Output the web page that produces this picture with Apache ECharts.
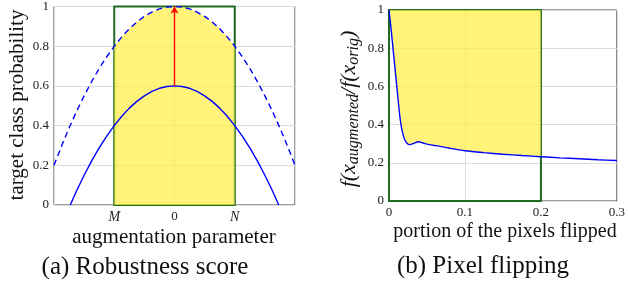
<!DOCTYPE html>
<html><head><meta charset="utf-8">
<script src="https://cdn.jsdelivr.net/npm/echarts@6/dist/echarts.min.js"></script>
<style>html,body{margin:0;padding:0;background:#fff}#c{width:628px;height:284px}</style>
</head><body><div id="c"></div>
<script>
// ---- left panel: robustness score ----
const dashX = [-2, -1.875, -1.75, -1.625, -1.5, -1.375, -1.25, -1.125, -1, -0.875, -0.75, -0.625, -0.5, -0.375, -0.25, -0.125, 0,
               0.125, 0.25, 0.375, 0.5, 0.625, 0.75, 0.875, 1, 1.125, 1.25, 1.375, 1.5, 1.625, 1.75, 1.875, 2];
const dashY = [0.20, 0.297, 0.388, 0.472, 0.55, 0.622, 0.688, 0.747, 0.80, 0.847, 0.888, 0.922, 0.95, 0.972, 0.988, 0.997, 1.00,
               0.997, 0.988, 0.972, 0.95, 0.922, 0.888, 0.847, 0.80, 0.747, 0.688, 0.622, 0.55, 0.472, 0.388, 0.297, 0.20];
const solidX = [-1.73, -1.625, -1.5, -1.375, -1.25, -1.125, -1, -0.875, -0.75, -0.625, -0.5, -0.375, -0.25, -0.125, 0,
                0.125, 0.25, 0.375, 0.5, 0.625, 0.75, 0.875, 1, 1.125, 1.25, 1.375, 1.5, 1.625, 1.73];
const solidY = [0, 0.072, 0.15, 0.222, 0.288, 0.347, 0.40, 0.447, 0.488, 0.522, 0.55, 0.572, 0.588, 0.597, 0.60,
                0.597, 0.588, 0.572, 0.55, 0.522, 0.488, 0.447, 0.40, 0.347, 0.288, 0.222, 0.15, 0.072, 0];
const leftTickLabels = {'-1': 'M', '0': '0', '1': 'N'};
const boxM = -1, boxN = 1;
const arrowFrom = 0.6, arrowTo = 1;
// ---- right panel: pixel flipping ----
const flipX = [0, 0.003, 0.006, 0.009, 0.012, 0.015, 0.018, 0.021, 0.024, 0.027, 0.031, 0.035, 0.039, 0.044, 0.05, 0.058, 0.066, 0.08, 0.1, 0.125, 0.15, 0.175, 0.2, 0.225, 0.25, 0.275, 0.3];
const flipY = [1, 0.89, 0.77, 0.65, 0.53, 0.42, 0.355, 0.318, 0.301, 0.295, 0.299, 0.306, 0.31, 0.305, 0.298, 0.292, 0.287, 0.276, 0.263, 0.253, 0.245, 0.238, 0.232, 0.226, 0.221, 0.216, 0.212];
const flipLimit = 0.2;

const pairs = (xs, ys) => xs.map((x, i) => [x, ys[i]]);
const yellow = 'rgba(255,238,70,0.72)';
const green = '#1f6b1f';
const blue = '#0000ff';
const serif = '"Liberation Serif", "DejaVu Serif", serif';
const tickFont = {fontFamily: serif, fontSize: 13, color: '#222'};
const gridLine = {show: true, lineStyle: {color: '#dcdcdc', width: 1}};

const dashPts = pairs(dashX, dashY);
const fillLeft = dashPts.filter(p => p[0] >= boxM && p[0] <= boxN);
const flipPts = pairs(flipX, flipY);
const fillRight = flipPts.filter(p => p[0] <= flipLimit);

const chart = echarts.init(document.getElementById('c'), null, {renderer: 'canvas'});
chart.setOption({
  animation: false,
  grid: [
    {left: 54, top: 5, width: 241, height: 200, show: true, borderColor: '#444', borderWidth: 1, backgroundColor: 'transparent'},
    {left: 389, top: 10, width: 231, height: 191, show: true, borderColor: '#444', borderWidth: 1, backgroundColor: 'transparent'}
  ],
  xAxis: [
    {type: 'value', gridIndex: 0, min: -2, max: 2, interval: 1,
     axisLine: {show: false}, axisTick: {show: false}, splitLine: gridLine,
     axisLabel: Object.assign({margin: 5, formatter: v => {
       const s = leftTickLabels[String(v)]; if (!s) return ''; return s === '0' ? '0' : '{i|' + s + '}';
     }, rich: {i: {fontFamily: serif, fontStyle: 'italic', fontSize: 14, color: '#222'}}}, tickFont)},
    {type: 'value', gridIndex: 1, min: 0, max: 0.3, interval: 0.1,
     axisLine: {show: false}, axisTick: {show: false}, splitLine: gridLine,
     axisLabel: Object.assign({margin: 5, formatter: v => String(+v.toFixed(1))}, tickFont)}
  ],
  yAxis: [
    {type: 'value', gridIndex: 0, min: 0, max: 1, interval: 0.2,
     axisLine: {show: false}, axisTick: {show: false}, splitLine: gridLine,
     axisLabel: Object.assign({margin: 5, formatter: v => String(+v.toFixed(1))}, tickFont)},
    {type: 'value', gridIndex: 1, min: 0, max: 1, interval: 0.2,
     axisLine: {show: false}, axisTick: {show: false}, splitLine: gridLine,
     axisLabel: Object.assign({margin: 5, formatter: v => String(+v.toFixed(1))}, tickFont)}
  ],
  series: [
    {type: 'line', xAxisIndex: 0, yAxisIndex: 0, data: fillLeft, symbol: 'none',
     lineStyle: {width: 0, opacity: 0}, areaStyle: {color: yellow, opacity: 1}, z: 1},
    {type: 'line', xAxisIndex: 0, yAxisIndex: 0, data: dashPts, symbol: 'none',
     lineStyle: {color: blue, width: 1.4, type: [6, 4]}, z: 3},
    {type: 'line', xAxisIndex: 0, yAxisIndex: 0, data: pairs(solidX, solidY), symbol: 'none',
     lineStyle: {color: blue, width: 1.4}, z: 3,
     markLine: {silent: true, symbol: ['none', 'arrow'], symbolSize: [6, 7], label: {show: false},
       lineStyle: {color: '#ff0000', width: 1.4, type: 'solid'},
       data: [[{coord: [0, arrowFrom]}, {coord: [0, arrowTo]}]]}},
    {type: 'line', xAxisIndex: 0, yAxisIndex: 0, data: [], symbol: 'none', z: 5,
     markArea: {silent: true, itemStyle: {color: 'rgba(0,0,0,0)', borderColor: green, borderWidth: 2},
       data: [[{coord: [boxM, 0]}, {coord: [boxN, 1]}]]}},

    {type: 'line', xAxisIndex: 1, yAxisIndex: 1, data: fillRight, smooth: 0.3, symbol: 'none',
     lineStyle: {width: 0, opacity: 0}, areaStyle: {color: yellow, opacity: 1, origin: 'end'}, z: 1},
    {type: 'line', xAxisIndex: 1, yAxisIndex: 1, data: flipPts, smooth: 0.3, symbol: 'none',
     lineStyle: {color: blue, width: 1.4}, z: 3},
    {type: 'line', xAxisIndex: 1, yAxisIndex: 1, data: [], symbol: 'none', z: 5,
     markArea: {silent: true, itemStyle: {color: 'rgba(0,0,0,0)', borderColor: green, borderWidth: 2},
       data: [[{coord: [0, 0]}, {coord: [flipLimit, 1]}]]}}
  ],
  graphic: [
    {type: 'text', x: 17, y: 105, rotation: Math.PI / 2,
     style: {text: 'target class probability', font: '21px ' + serif, fill: '#111', align: 'center', verticalAlign: 'middle'}},
    {type: 'text', x: 174, y: 237,
     style: {text: 'augmentation parameter', font: '21px ' + serif, fill: '#111', align: 'center', verticalAlign: 'middle'}},
    {type: 'text', x: 145, y: 267,
     style: {text: '(a) Robustness score', font: '25px ' + serif, fill: '#111', align: 'center', verticalAlign: 'middle'}},
    {type: 'text', x: 349, y: 109, rotation: Math.PI / 2,
     style: {text: '{f|f(x}{s|augmented}{f|/f(x}{s|orig}{f|)}', align: 'center', verticalAlign: 'middle', fill: '#111',
       rich: {f: {fontFamily: serif, fontStyle: 'italic', fontSize: 22, lineHeight: 25, fill: '#111'},
              s: {fontFamily: serif, fontStyle: 'italic', fontSize: 16, lineHeight: 16, verticalAlign: 'bottom', fill: '#111'}}}},
    {type: 'text', x: 505, y: 232,
     style: {text: 'portion of the pixels flipped', font: '20px ' + serif, fill: '#111', align: 'center', verticalAlign: 'middle'}},
    {type: 'text', x: 483, y: 266,
     style: {text: '(b) Pixel flipping', font: '25px ' + serif, fill: '#111', align: 'center', verticalAlign: 'middle'}}
  ]
});
</script></body></html>
